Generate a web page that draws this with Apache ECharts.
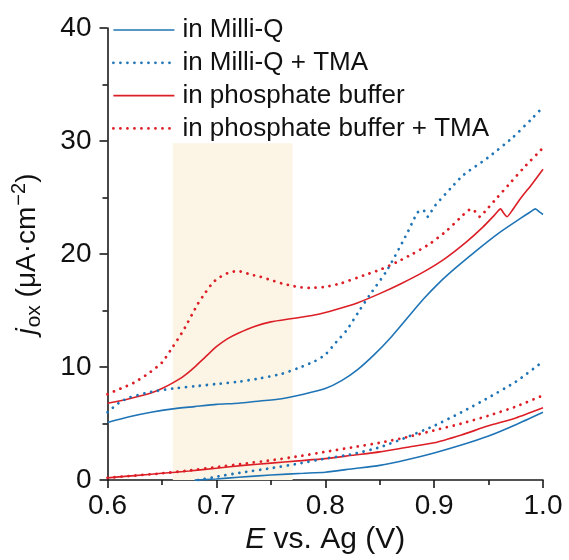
<!DOCTYPE html>
<html>
<head>
<meta charset="utf-8">
<script src="https://cdn.jsdelivr.net/npm/echarts@6/dist/echarts.min.js"></script>
<style>html,body{margin:0;padding:0;background:#fff}#c{width:569px;height:560px}</style>
</head>
<body>
<div id="c"></div>
<script>
// ---- data ----
var legendNames = ['in Milli-Q', 'in Milli-Q + TMA', 'in phosphate buffer', 'in phosphate buffer + TMA'];
var xTicks = [0.6, 0.7, 0.8, 0.9, 1.0];
var yTicks = [0, 10, 20, 30, 40];
var shadeX = [0.66, 0.77];
var shadeY = [0, 29.8];

var mqUpper = [[0.600,5.1],[0.620,5.6],[0.640,6.0],[0.660,6.3],[0.680,6.5],[0.700,6.7],[0.720,6.8],[0.740,7.0],[0.760,7.2],[0.780,7.6],[0.800,8.1],[0.815,8.8],[0.830,9.8],[0.845,11.1],[0.860,12.6],[0.875,14.3],[0.890,16.0],[0.905,17.5],[0.920,18.8],[0.940,20.4],[0.960,21.9],[0.980,23.2],[0.988,23.7],[0.993,24.0],[0.997,23.7],[1.000,23.5]];
var mqLower = [[0.680,0.0],[0.700,0.1],[0.720,0.25],[0.750,0.45],[0.780,0.6],[0.800,0.7],[0.825,1.0],[0.850,1.3],[0.875,1.8],[0.900,2.4],[0.925,3.1],[0.950,3.9],[0.975,4.9],[1.000,6.0]];

var mqTmaUpper = [[0.600,6.0],[0.610,6.8],[0.620,7.3],[0.640,7.8],[0.660,8.1],[0.680,8.3],[0.700,8.5],[0.720,8.7],[0.740,9.0],[0.760,9.4],[0.775,9.9],[0.790,10.5],[0.800,11.1],[0.810,12.2],[0.820,13.3],[0.830,14.8],[0.841,16.4],[0.857,18.6],[0.875,21.8],[0.881,23.0],[0.885,23.7],[0.890,23.9],[0.894,23.3],[0.897,23.7],[0.901,24.3],[0.915,25.8],[0.927,27.0],[0.949,28.5],[0.972,30.3],[0.990,32.0],[1.000,33.0]];
var mqTmaLower = [[0.683,0.0],[0.700,0.3],[0.725,0.7],[0.750,1.05],[0.775,1.45],[0.800,1.9],[0.825,2.3],[0.850,2.9],[0.875,3.8],[0.900,4.8],[0.925,6.0],[0.950,7.3],[0.975,8.7],[1.000,10.5]];

var pbUpper = [[0.600,6.8],[0.620,7.2],[0.640,7.7],[0.650,8.1],[0.660,8.6],[0.670,9.2],[0.680,10.0],[0.690,10.9],[0.700,11.8],[0.710,12.5],[0.720,13.0],[0.735,13.6],[0.750,14.0],[0.770,14.3],[0.790,14.6],[0.810,15.1],[0.830,15.7],[0.850,16.5],[0.870,17.4],[0.890,18.4],[0.910,19.6],[0.930,21.1],[0.945,22.4],[0.955,23.4],[0.961,24.0],[0.964,23.6],[0.967,23.3],[0.972,23.9],[0.980,25.0],[0.990,26.2],[1.000,27.5]];
var pbLower = [[0.600,0.2],[0.625,0.4],[0.650,0.6],[0.675,0.8],[0.700,1.05],[0.725,1.3],[0.750,1.5],[0.775,1.7],[0.800,1.9],[0.825,2.2],[0.850,2.5],[0.875,2.9],[0.900,3.3],[0.925,4.0],[0.950,4.8],[0.975,5.5],[1.000,6.4]];

var pbTmaUpper = [[0.600,7.6],[0.612,8.1],[0.624,8.6],[0.637,9.4],[0.650,10.4],[0.660,11.8],[0.670,13.3],[0.683,15.6],[0.690,16.6],[0.697,17.5],[0.704,18.0],[0.710,18.3],[0.719,18.5],[0.725,18.4],[0.731,18.2],[0.740,18.0],[0.750,17.7],[0.760,17.4],[0.769,17.2],[0.778,17.05],[0.786,17.0],[0.800,17.1],[0.814,17.4],[0.835,18.1],[0.850,18.6],[0.866,19.3],[0.880,20.0],[0.896,20.9],[0.912,22.1],[0.927,23.5],[0.932,23.9],[0.935,24.0],[0.939,23.6],[0.942,23.3],[0.947,23.8],[0.958,25.0],[0.970,26.3],[0.982,27.6],[1.000,29.4]];
var pbTmaLower = [[0.600,0.2],[0.625,0.4],[0.650,0.6],[0.675,0.85],[0.700,1.15],[0.725,1.45],[0.750,1.75],[0.775,2.1],[0.800,2.5],[0.825,2.9],[0.850,3.3],[0.875,3.8],[0.900,4.4],[0.925,5.0],[0.950,5.7],[0.975,6.5],[1.000,7.5]];

// ---- styling ----
var BLUE = '#1f74b6';
var RED = '#dc1f26';
var FONT = "'Liberation Sans', Arial, sans-serif";
var AX = '#1a1a1a';

function lineStyleFor(color, dotted) {
  return dotted
    ? { color: color, width: 2.8, type: [0.01, 7], cap: 'round' }
    : { color: color, width: 1.6, type: 'solid' };
}
function mk(name, data, color, dotted, z) {
  return {
    name: name, type: 'line', data: data, symbol: 'none', smooth: 0.2,
    lineStyle: lineStyleFor(color, dotted), itemStyle: { color: color },
    z: z, animation: false
  };
}

var series = [
  mk(legendNames[0], mqUpper, BLUE, false, 5),
  mk(legendNames[0], mqLower, BLUE, false, 5),
  mk(legendNames[1], mqTmaUpper, BLUE, true, 4),
  mk(legendNames[1], mqTmaLower, BLUE, true, 4),
  mk(legendNames[2], pbUpper, RED, false, 3),
  mk(legendNames[2], pbLower, RED, false, 3),
  mk(legendNames[3], pbTmaUpper, RED, true, 2),
  mk(legendNames[3], pbTmaLower, RED, true, 2)
];
series[0].markArea = {
  silent: true,
  itemStyle: { color: '#fcf5e5' },
  data: [[{ xAxis: shadeX[0], yAxis: shadeY[0] }, { xAxis: shadeX[1], yAxis: shadeY[1] }]]
};

var legendColors = [BLUE, BLUE, RED, RED];
var legendDotted = [false, true, false, true];

var chart = echarts.init(document.getElementById('c'), null, { renderer: 'canvas' });
chart.setOption({
  animation: false,
  backgroundColor: '#fff',
  textStyle: { fontFamily: FONT },
  grid: { left: 107.5, right: 26, top: 28, bottom: 74.5, containLabel: false },
  legend: {
    orient: 'vertical', left: 107, top: 12,
    itemWidth: 61, itemHeight: 20, itemGap: 6.8,
    textStyle: { fontFamily: FONT, fontSize: 26, color: '#111', lineHeight: 26, padding: [0, 0, 0, 3] },
    data: legendNames.map(function (n, i) {
      return {
        name: n,
        lineStyle: lineStyleFor(legendColors[i], legendDotted[i]),
        itemStyle: { color: 'rgba(0,0,0,0)', borderWidth: 0, opacity: 0 }
      };
    })
  },
  xAxis: {
    type: 'value', min: xTicks[0], max: xTicks[xTicks.length - 1], interval: 0.1,
    name: '{i|E} vs. Ag (V)', nameLocation: 'middle', nameGap: 42,
    nameTextStyle: { fontFamily: FONT, fontSize: 30, color: '#111', rich: { i: { fontStyle: 'italic', fontSize: 30, fontFamily: FONT, color: '#111' } } },
    axisLine: { lineStyle: { color: AX, width: 1.6 } },
    axisTick: { inside: false, length: 8, lineStyle: { color: AX, width: 1.6 } },
    minorTick: { show: true, splitNumber: 2, length: 5, lineStyle: { color: AX, width: 1.6 } },
    splitLine: { show: false },
    axisLabel: { fontFamily: FONT, fontSize: 28, color: '#111', margin: 12, formatter: function (v) { return v.toFixed(1); } }
  },
  yAxis: {
    type: 'value', min: yTicks[0], max: yTicks[yTicks.length - 1], interval: 10,
    name: '{i|j}{sub|ox} (μA·cm{sup|−2})', nameLocation: 'middle', nameRotate: 90, nameGap: 62,
    nameTextStyle: {
      fontFamily: FONT, fontSize: 28, color: '#111',
      rich: {
        i: { fontStyle: 'italic', fontSize: 28, fontFamily: FONT, color: '#111' },
        sub: { fontSize: 21, fontFamily: FONT, color: '#111', padding: [14, 0, 0, 1] },
        sup: { fontSize: 20, fontFamily: FONT, color: '#111', padding: [0, 0, 16, 1] }
      }
    },
    axisLine: { show: true, lineStyle: { color: AX, width: 1.6 } },
    axisTick: { show: true, inside: false, length: 8, lineStyle: { color: AX, width: 1.6 } },
    minorTick: { show: true, splitNumber: 2, length: 5, lineStyle: { color: AX, width: 1.6 } },
    splitLine: { show: false },
    axisLabel: { fontFamily: FONT, fontSize: 28, color: '#111', margin: 16 }
  },
  series: series
});
</script>
</body>
</html>
